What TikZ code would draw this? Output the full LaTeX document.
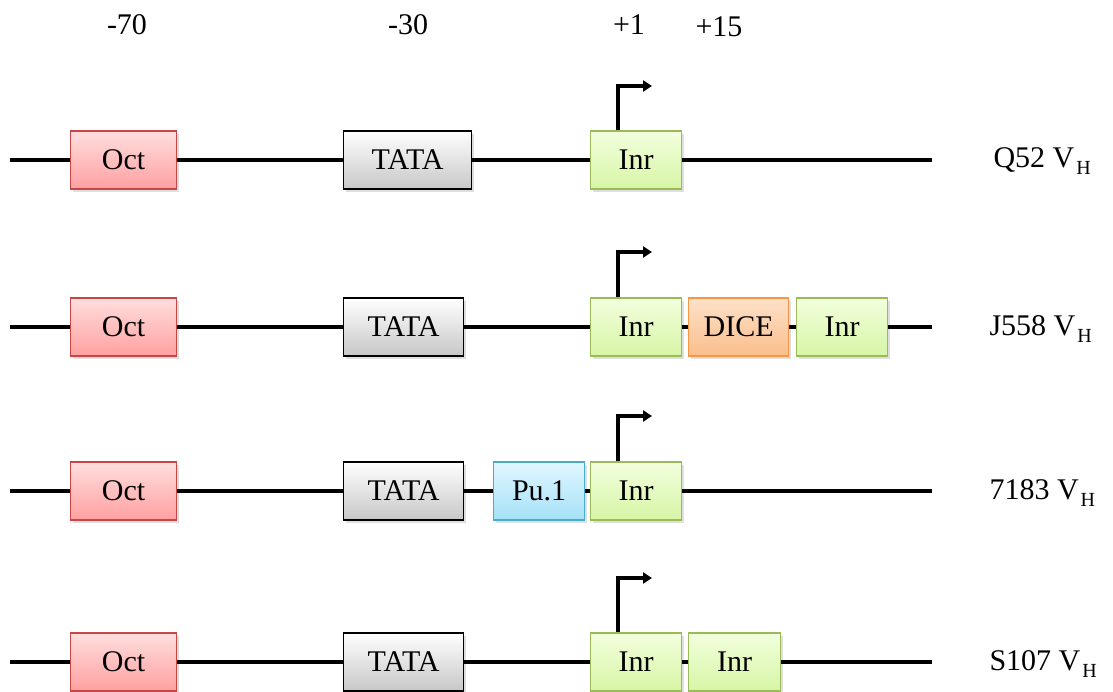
\documentclass[tikz,border=0pt]{standalone}
\usepackage{fontspec}
\setmainfont{Liberation Serif}
\usetikzlibrary{arrows.meta, positioning, shadows}
\definecolor{octborda}{RGB}{200, 70, 70}
\definecolor{octtopo}{RGB}{255, 222, 222}
\definecolor{octbase}{RGB}{255, 160, 160}
\definecolor{inrborda}{RGB}{155, 187, 89}
\definecolor{inrtopo}{RGB}{242, 255, 222}
\definecolor{inrbase}{RGB}{215, 245, 165}
\definecolor{diceborda}{RGB}{247, 150, 70}
\definecolor{dicetopo}{RGB}{253, 225, 200}
\definecolor{dicebase}{RGB}{250, 190, 140}
\definecolor{puborda}{RGB}{75, 172, 198}
\definecolor{putopo}{RGB}{225, 247, 255}
\definecolor{pubase}{RGB}{165, 225, 248}
\newcommand{\vh}[1]{#1 V\kern2pt\raisebox{-7pt}{\fontsize{20}{20}\selectfont H}}

\begin{document}
\begin{tikzpicture}[
                x=1pt, y=-1pt,
                every node/.style={font=\fontsize{30}{36}\selectfont},
                caixa/.style={draw, line width=1.3pt, minimum height=58pt,
                    inner sep=0pt, anchor=west,
                    drop shadow={opacity=0.25, shadow xshift=2pt, shadow yshift=-3pt}},
                oct/.style={caixa, draw=octborda, top color=octtopo, bottom color=octbase,
                    minimum width=106pt},
                tata/.style={caixa, draw=black, top color=white, bottom color=black!22},
                inr/.style={caixa, draw=inrborda, top color=inrtopo, bottom color=inrbase,
                    minimum width=91pt},
                dice/.style={caixa, draw=diceborda, top color=dicetopo, bottom color=dicebase,
                    minimum width=100pt},
                pu/.style={caixa, draw=puborda, top color=putopo, bottom color=pubase,
                    minimum width=91pt},
                fita/.style={line width=3.5pt, color=black},
                tss/.style={-{Triangle[length=9pt, width=11pt]}, line width=4pt},
                rotulo/.style={anchor=base west}
            ]
                \useasboundingbox (0,0) rectangle (1113,692);
                % posicoes no topo
                \node (p70) at (127,25) {-70};
                \node (p30) at (408,25) {-30};
                \node (p1)  at (629,25) {+1};
                \node (p15) at (719,27) {+15};
                % Q52
                \coordinate (s1) at (10,160);
                \coordinate (e1) at (932,160);
                \node[oct]  (oct1)  at (70,160)  {Oct};
                \node[tata, minimum width=128pt] (tata1) at (343,160) {TATA};
                \node[inr]  (inr1)  at (590,160) {Inr};
                \draw[fita] (s1) -- (oct1) -- (tata1) -- (inr1) -- (e1);
                \coordinate (t1) at (652,86);
                \draw[tss] ([xshift=-18pt]inr1.north) |- (t1);
                \node[rotulo] (q52) at (990,168) {\vh{Q52}};
                % J558
                \coordinate (s2) at (10,327);
                \coordinate (e2) at (932,327);
                \node[oct]  (oct2)  at (70,327)  {Oct};
                \node[tata, minimum width=120pt] (tata2) at (343,327) {TATA};
                \node[inr]  (inr2)  at (590,327) {Inr};
                \node[dice] (dice2) at (688,327) {DICE};
                \node[inr]  (inr2b) at (796,327) {Inr};
                \draw[fita] (s2) -- (oct2) -- (tata2) -- (inr2);
                \draw[fita] (inr2) -- (dice2) -- (inr2b) -- (e2);
                \coordinate (t2) at (652,252);
                \draw[tss] ([xshift=-18pt]inr2.north) |- (t2);
                \node[rotulo] (j558) at (986,335) {\vh{J558}};
                % 7183
                \coordinate (s3) at (10,491);
                \coordinate (e3) at (932,491);
                \node[oct]  (oct3)  at (70,491)  {Oct};
                \node[tata, minimum width=120pt] (tata3) at (343,491) {TATA};
                \node[pu]   (pu3)   at (493,491) {Pu.1};
                \node[inr]  (inr3)  at (590,491) {Inr};
                \draw[fita] (s3) -- (oct3) -- (tata3) -- (pu3) -- (inr3) -- (e3);
                \coordinate (t3) at (652,416);
                \draw[tss] ([xshift=-18pt]inr3.north) |- (t3);
                \node[rotulo] (s7183) at (986,499) {\vh{7183}};
                % S107
                \coordinate (s4) at (10,662);
                \coordinate (e4) at (932,662);
                \node[oct]  (oct4)  at (70,662)  {Oct};
                \node[tata, minimum width=120pt] (tata4) at (343,662) {TATA};
                \node[inr]  (inr4)  at (590,662) {Inr};
                \node[inr, minimum width=92pt] (inr4b) at (688,662) {Inr};
                \draw[fita] (s4) -- (oct4) -- (tata4) -- (inr4) -- (inr4b) -- (e4);
                \coordinate (t4) at (652,578);
                \draw[tss] ([xshift=-18pt]inr4.north) |- (t4);
                \node[rotulo] (s107) at (986,670) {\vh{S107}};
            \end{tikzpicture}
\end{document}
